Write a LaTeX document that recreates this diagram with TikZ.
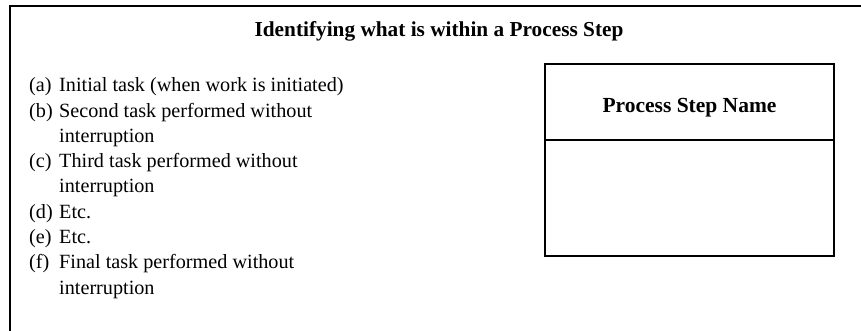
\documentclass[tikz,border=0pt]{standalone}
\usepackage{fontspec}
\setmainfont{Liberation Serif}
\begin{document}
\begin{tikzpicture}[x=1pt,y=-1pt,
  frameline/.style={line width=2pt,line join=miter},
  boxline/.style={line width=1.7pt},
  titletext/.style={font=\fontsize{21.3}{25}\selectfont\bfseries,inner sep=0pt,anchor=base},
  headtext/.style={font=\fontsize{21.5}{25}\selectfont\bfseries,inner sep=0pt,anchor=base},
  itemtext/.style={font=\fontsize{20.2}{25}\selectfont,inner sep=0pt,anchor=base west}]
\useasboundingbox (0,0) rectangle (861,331);

% open frame: top rule and left rule
\coordinate (frameR) at (861,6);
\coordinate (frameC) at (9.5,6);
\coordinate (frameB) at (9.5,331);
\draw[frameline] (frameR) -- (frameC) -- (frameB);

% heading
\node[titletext] (title) at (439,37) {Identifying what is within a Process Step};

% list of tasks
\node[itemtext] (la) at (29,92)     {(a)};
\node[itemtext] (ta) at (59,92)     {Initial task (when work is initiated)};
\node[itemtext] (lb) at (29,117.25) {(b)};
\node[itemtext] (tb) at (59,117.25) {Second task performed without};
\node[itemtext] (tb2) at (59,142.5) {interruption};
\node[itemtext] (lc) at (29,167.75) {(c)};
\node[itemtext] (tc) at (59,167.75) {Third task performed without};
\node[itemtext] (tc2) at (59,193)   {interruption};
\node[itemtext] (ld) at (29,218.25) {(d)};
\node[itemtext] (td) at (59,218.25) {Etc.};
\node[itemtext] (le) at (29,243.5)  {(e)};
\node[itemtext] (te) at (59,243.5)  {Etc.};
\node[itemtext] (lf) at (29,268.75) {(f)};
\node[itemtext] (tf) at (59,268.75) {Final task performed without};
\node[itemtext] (tf2) at (59,294)   {interruption};

% process step box with header compartment
\node[boxline,draw,rectangle,minimum width=289pt,minimum height=192pt,inner sep=0pt]
  (stepbox) at (689.5,160) {};
\coordinate (divL) at (545,140);
\coordinate (divR) at (834,140);
\draw[boxline] (stepbox.west |- divL) -- (stepbox.east |- divR);
\node[headtext] (stepname) at (689.5,113) {Process Step Name};
\end{tikzpicture}
\end{document}
